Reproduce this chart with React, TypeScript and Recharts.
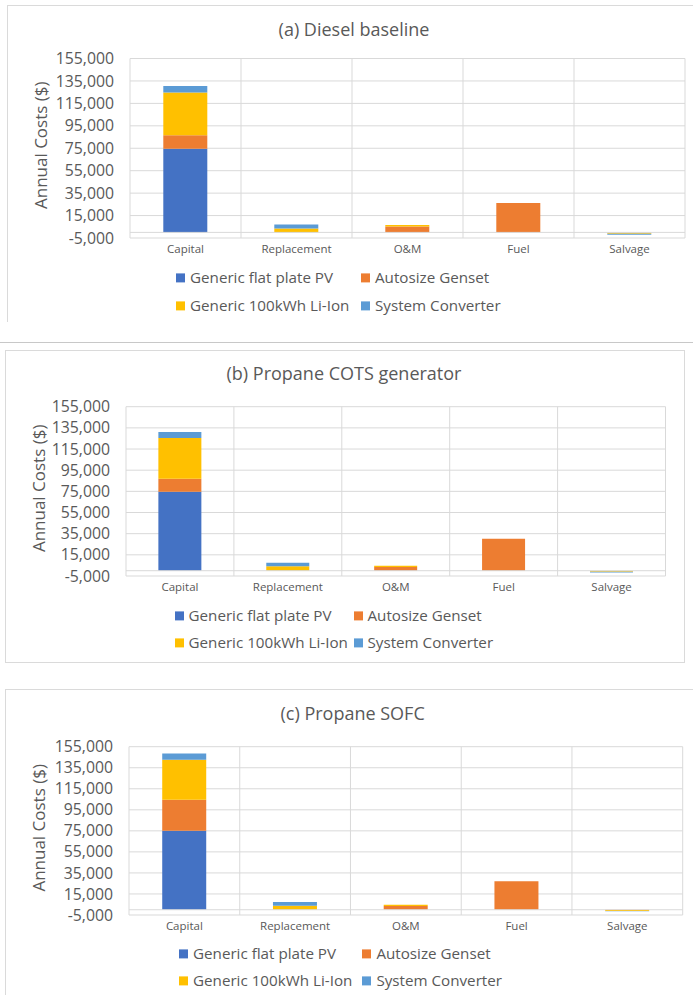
import React from 'react';
import { BarChart, Bar, XAxis, YAxis, CartesianGrid, ReferenceLine } from 'recharts';

const categories = ['Capital', 'Replacement', 'O&M', 'Fuel', 'Salvage'];
const seriesNames = ['Generic flat plate PV', 'Autosize Genset', 'Generic 100kWh Li-Ion', 'System Converter'];
const seriesColors = ['#4472C4', '#ED7D31', '#FFC000', '#5B9BD5'];
const yTicks = [-5000, 15000, 35000, 55000, 75000, 95000, 115000, 135000, 155000];
const yDomain = [-5000, 155000];

// (a) Diesel baseline
const dieselPV = [74500, 0, 0, 0, 0];
const dieselGenset = [12000, 0, 5200, 26200, -400];
const dieselLiIon = [38200, 3500, 1300, 0, -900];
const dieselConverter = [5800, 3500, 0, 0, -700];

// (b) Propane COTS generator
const cotsPV = [74700, 0, 0, 0, 0];
const cotsGenset = [12200, 0, 3500, 30200, 0];
const cotsLiIon = [38500, 4300, 1300, 0, -1000];
const cotsConverter = [5700, 3200, 0, 0, -700];

// (c) Propane SOFC
const sofcPV = [75000, 0, 0, 0, 0];
const sofcGenset = [29500, 0, 3500, 27100, -300];
const sofcLiIon = [38000, 3800, 1200, 0, -800];
const sofcConverter = [6100, 3500, 0, 0, -300];

const FONT = '"Open Sans", "Noto Sans", sans-serif';
const TEXT = '#595959';
const GRID = '#D9D9D9';

type Layout = {
  chartTop: number;
  plotTop: number;
  plotBottom: number;
  plotLeft: number;
  plotRight: number;
  titleX: number;
  titleY: number;
  yLabelX: number;
  legendX1: number;
  legendX2: number;
  legendY1: number;
  legendY2: number;
};

function buildRows(series: number[][]) {
  return categories.map((c, i) => {
    const row: Record<string, number | string> = { category: c };
    series.forEach((s, k) => {
      row['s' + k] = s[i];
    });
    return row;
  });
}

const fmt = (v: number) => v.toLocaleString('en-US');

function Panel({ title, series, L }: { title: string; series: number[][]; L: Layout }) {
  const rows = buildRows(series);
  const xAxisH = 30;
  const height = L.plotBottom - L.chartTop + xAxisH;
  const marginTop = L.plotTop - L.chartTop;
  const yCenter = (L.plotTop + L.plotBottom) / 2 - 3 - L.chartTop;
  const legendPos = [
    [L.legendX1, L.legendY1],
    [L.legendX2, L.legendY1],
    [L.legendX1, L.legendY2],
    [L.legendX2, L.legendY2],
  ];
  return (
    <>
      <div
        style={{
          position: 'absolute',
          left: L.titleX,
          top: L.titleY,
          transform: 'translate(-50%, -50%)',
          whiteSpace: 'nowrap',
          fontFamily: FONT,
          fontSize: 18,
          color: TEXT,
          lineHeight: 1,
        }}
      >
        {title}
      </div>
      <div style={{ position: 'absolute', left: 0, top: L.chartTop }}>
        <BarChart
          width={693}
          height={height}
          data={rows}
          stackOffset="sign"
          barCategoryGap="30%"
          margin={{ top: marginTop, right: 693 - L.plotRight, bottom: 0, left: 0 }}
        >
          <CartesianGrid
            stroke={GRID}
            strokeWidth={1}
            verticalCoordinatesGenerator={({ offset }: any) =>
              Array.from({ length: categories.length + 1 }, (_, i) => offset.left + (i * offset.width) / categories.length)
            }
          />
          <XAxis
            dataKey="category"
            height={xAxisH}
            axisLine={false}
            tickLine={false}
            tickSize={0}
            tickMargin={7}
            interval={0}
            tick={{ fontFamily: FONT, fontSize: 11.5, fill: TEXT }}
          />
          <YAxis
            width={L.plotLeft}
            domain={yDomain}
            ticks={yTicks}
            interval={0}
            axisLine={false}
            tickLine={false}
            tickSize={0}
            tickMargin={16}
            tickFormatter={fmt}
            tick={{ fontFamily: FONT, fontSize: 15.8, fill: TEXT }}
            label={{
              content: () => (
                <text
                  x={L.yLabelX}
                  y={yCenter}
                  transform={`rotate(-90 ${L.yLabelX} ${yCenter})`}
                  textAnchor="middle"
                  dominantBaseline="central"
                  fontFamily={FONT}
                  fontSize={17}
                  fill={TEXT}
                >
                  Annual Costs ($)
                </text>
              ),
            }}
          />
          <ReferenceLine y={0} stroke={GRID} strokeWidth={1} />
          {seriesNames.map((name, k) => (
            <Bar
              key={name}
              dataKey={'s' + k}
              name={name}
              stackId="a"
              fill={seriesColors[k]}
              isAnimationActive={false}
            />
          ))}
        </BarChart>
      </div>
      {seriesNames.map((name, k) => (
        <div
          key={name}
          style={{
            position: 'absolute',
            left: legendPos[k][0],
            top: legendPos[k][1],
            transform: 'translateY(-50%)',
            display: 'flex',
            alignItems: 'center',
            whiteSpace: 'nowrap',
            fontFamily: FONT,
            fontSize: 15.2,
            color: TEXT,
            lineHeight: 1,
          }}
        >
          <span style={{ display: 'inline-block', width: 9, height: 9, background: seriesColors[k], marginRight: 5 }} />
          <span>{name}</span>
        </div>
      ))}
    </>
  );
}

const layoutA: Layout = {
  chartTop: 0,
  plotTop: 58.5,
  plotBottom: 238,
  plotLeft: 130,
  plotRight: 685,
  titleX: 354,
  titleY: 29,
  yLabelX: 40.5,
  legendX1: 176,
  legendX2: 361,
  legendY1: 278,
  legendY2: 306,
};

const layoutB: Layout = {
  chartTop: 340,
  plotTop: 406.7,
  plotBottom: 576,
  plotLeft: 126,
  plotRight: 665.5,
  titleX: 344,
  titleY: 373,
  yLabelX: 39,
  legendX1: 174.5,
  legendX2: 353.5,
  legendY1: 615.7,
  legendY2: 642.7,
};

const layoutC: Layout = {
  chartTop: 680,
  plotTop: 746.7,
  plotBottom: 915,
  plotLeft: 129,
  plotRight: 682.7,
  titleX: 352.6,
  titleY: 713,
  yLabelX: 39,
  legendX1: 179,
  legendX2: 362.4,
  legendY1: 954,
  legendY2: 981,
};

export default function App() {
  const border = '1px solid #DADADA';
  return (
    <div style={{ position: 'absolute', left: 0, top: 0, width: 693, height: 995, background: '#fff', overflow: 'hidden' }}>
      {/* panel frames */}
      <div style={{ position: 'absolute', left: 7, top: 5, width: 700, height: 316, borderLeft: border, borderTop: border, borderBottom: 'none' }} />
      <div style={{ position: 'absolute', left: 0, top: 342, width: 693, height: 0, borderTop: '1.5px solid #C8C8C8' }} />
      <div style={{ position: 'absolute', left: 5, top: 350, width: 678, height: 311, border: border }} />
      <div style={{ position: 'absolute', left: 5, top: 689, width: 700, height: 320, borderLeft: border, borderTop: border }} />

      <Panel title="(a) Diesel baseline" series={[dieselPV, dieselGenset, dieselLiIon, dieselConverter]} L={layoutA} />
      <Panel title="(b) Propane COTS generator" series={[cotsPV, cotsGenset, cotsLiIon, cotsConverter]} L={layoutB} />
      <Panel title="(c) Propane SOFC" series={[sofcPV, sofcGenset, sofcLiIon, sofcConverter]} L={layoutC} />
    </div>
  );
}
